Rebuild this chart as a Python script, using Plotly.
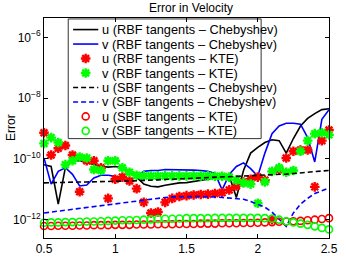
import plotly.graph_objects as go

# ---------------- data (log10 of the error) ----------------
x_vals = [0.5, 0.55, 0.6, 0.65, 0.7, 0.75, 0.8, 0.85, 0.9, 0.95,
          1.0, 1.05, 1.1, 1.15, 1.2, 1.25, 1.3, 1.35, 1.4, 1.45,
          1.5, 1.55, 1.6, 1.65, 1.7, 1.75, 1.8, 1.85, 1.9, 1.95,
          2.0, 2.05, 2.1, 2.15, 2.2, 2.25, 2.3, 2.35, 2.4, 2.45, 2.5]

u_rbf_cheb_log = [-10.19, -10.25, -11.49, -10.29, -10.06, -10.06, -10.13, -10.19, -10.24, -10.27,
                  -10.25, -10.29, -10.41, -10.60, -10.83, -10.90, -10.92, -10.87, -10.83, -10.79,
                  -10.78, -10.75, -10.70, -10.67, -10.62, -10.57, -10.56, -11.27, -10.38, -9.81,
                  -9.62, -9.46, -9.37, -9.40, -9.81, -9.33, -8.92, -8.67, -8.51, -8.38, -8.35]

v_rbf_cheb_log = [-9.97, -10.83, -10.41, -10.29, -10.51, -10.89, -10.86, -10.63, -10.54, -10.54,
                  -10.57, -10.67, -10.73, -10.57, -10.41, -10.38, -10.38, -10.35, -10.35, -10.35,
                  -10.35, -10.37, -10.38, -10.41, -10.48, -11.02, -10.51, -10.25, -10.13, -10.32,
                  -10.57, -9.81, -9.17, -8.92, -8.83, -8.83, -8.86, -9.30, -10.10, -8.70, -8.38]

u_rbf_kte_log = [-9.14, -9.87, -9.65, -9.56, -9.87, -11.08, -10.06, -10.06, -10.29, -11.30,
                 -10.67, -10.60, -10.73, -10.98, -11.43, -11.78, -11.75, -11.43, -11.30, -11.24,
                 -11.21, -11.19, -11.17, -11.16, -11.14, -11.11, -11.02, -10.89, -10.76, -10.67,
                 -10.60, -10.70, -12.00, -10.35, -9.97, -9.75, -9.71, -9.71, -10.92, -9.40, -9.05]

v_rbf_kte_log = [-9.49, -9.30, -9.46, -10.19, -10.06, -9.94, -9.97, -10.35, -10.38, -10.06,
                 -10.06, -10.29, -10.44, -10.54, -10.56, -10.56, -10.56, -10.56, -10.56, -10.56,
                 -10.56, -10.56, -10.56, -10.56, -10.57, -10.57, -10.60, -10.70, -10.79, -10.83,
                 -11.46, -10.76, -10.41, -10.29, -10.44, -10.38, -9.75, -9.40, -9.17, -9.14, -9.21]

u_sbf_cheb_log = [-10.79, -10.78, -10.78, -10.77, -10.77, -10.76, -10.76, -10.75, -10.75, -10.74,
                  -10.74, -10.73, -10.73, -10.72, -10.71, -10.71, -10.70, -10.69, -10.68, -10.67,
                  -10.66, -10.65, -10.64, -10.63, -10.62, -10.61, -10.60, -10.59, -10.58, -10.57,
                  -10.56, -10.54, -10.53, -10.51, -10.50, -10.48, -10.46, -10.44, -10.42, -10.40, -10.38]

v_sbf_cheb_log = [-11.78, -11.75, -11.71, -11.68, -11.65, -11.62, -11.59, -11.56, -11.52, -11.49,
                  -11.48, -11.44, -11.41, -11.38, -11.35, -11.32, -11.30, -11.27, -11.25, -11.24,
                  -11.24, -11.24, -11.24, -11.24, -11.25, -11.27, -11.29, -11.30, -11.33, -11.40,
                  -11.49, -11.59, -11.75, -11.97, -12.22, -11.78, -11.49, -11.30, -11.14, -11.05, -10.95]

u_sbf_kte_log = [-12.21, -12.21, -12.20, -12.20, -12.20, -12.19, -12.19, -12.18, -12.18, -12.18,
                 -12.17, -12.17, -12.17, -12.16, -12.16, -12.16, -12.15, -12.15, -12.15, -12.14,
                 -12.14, -12.14, -12.13, -12.13, -12.13, -12.12, -12.12, -12.12, -12.11, -12.11,
                 -12.10, -12.09, -12.08, -12.07, -12.06, -12.05, -12.04, -12.02, -12.00, -11.98, -11.95]

v_sbf_kte_log = [-12.10, -12.09, -12.09, -12.08, -12.08, -12.07, -12.06, -12.06, -12.05, -12.04,
                 -12.03, -12.02, -12.02, -12.01, -12.00, -11.99, -11.98, -11.97, -11.97, -11.96,
                 -11.95, -11.95, -11.95, -11.95, -11.94, -11.94, -11.94, -11.94, -11.94, -11.94,
                 -11.94, -11.95, -11.97, -12.00, -12.05, -12.09, -12.13, -12.17, -12.22, -12.27, -12.32]

x_tick_vals = [0.5, 1.0, 1.5, 2.0, 2.5]
x_tick_text = ["0.5", "1", "1.5", "2", "2.5"]
y_tick_vals = [1e-12, 1e-10, 1e-8, 1e-6]
y_tick_text = ["10<sup>\u221212</sup>", "10<sup>\u221210</sup>", "10<sup>\u22128</sup>", "10<sup>\u22126</sup>"]

legend_labels = [
    "u (RBF tangents \u2013 Chebyshev)",
    "v (RBF tangents \u2013 Chebyshev)",
    "u (RBF tangents \u2013 KTE)",
    "v (RBF tangents \u2013 KTE)",
    "u (SBF tangents \u2013 Chebyshev)",
    "v (SBF tangents \u2013 Chebyshev)",
    "u (SBF tangents \u2013 KTE)",
    "v (SBF tangents \u2013 KTE)",
]


def to_err(logs):
    return [10.0 ** v for v in logs]


FONT = "Liberation Sans, Arial, Helvetica, sans-serif"
BLUE = "#0000ff"
RED = "#ff0000"
GREEN = "#00ff00"
DASH = "5px,3px"
TICK_SIZE = 12
TITLE_SIZE = 12
LEG_SIZE = 12.8

# style of each series, in legend order: (data, mode, color, dash, symbol)
series = [
    (u_rbf_cheb_log, "lines", "black", "solid", None),
    (v_rbf_cheb_log, "lines", BLUE, "solid", None),
    (u_rbf_kte_log, "markers", RED, None, "asterisk"),
    (v_rbf_kte_log, "markers", GREEN, None, "asterisk"),
    (u_sbf_cheb_log, "lines", "black", DASH, None),
    (v_sbf_cheb_log, "lines", BLUE, DASH, None),
    (u_sbf_kte_log, "markers", RED, None, "circle-open"),
    (v_sbf_kte_log, "markers", GREEN, None, "circle-open"),
]


def marker_style(color, symbol):
    if symbol == "asterisk":
        return dict(symbol="asterisk", size=8, color=color, line=dict(color=color, width=2.4))
    return dict(symbol="circle-open", size=7, color=color, line=dict(color=color, width=1.6))


fig = go.Figure()

for data, mode, color, dash, symbol in series:
    if mode == "lines":
        fig.add_trace(go.Scatter(x=x_vals, y=to_err(data), mode="lines",
                                 line=dict(color=color, width=1.6, dash=dash),
                                 showlegend=False, hoverinfo="skip"))
    else:
        fig.add_trace(go.Scatter(x=x_vals, y=to_err(data), mode="markers",
                                 marker=marker_style(color, symbol), cliponaxis=False,
                                 showlegend=False, hoverinfo="skip"))

# ---------------- legend box (drawn in a pixel-like overlay frame) ----------------
PLOT_L, PLOT_R, PLOT_T, PLOT_B = 44, 338, 18, 246
L_X0, L_X1, L_Y0, L_Y1 = 69, 268, 19, 143
ROW0, ROW_STEP = 30, 15
S_X0, S_X1, S_XM, T_X = 74, 100, 87, 102

fig.add_trace(go.Scatter(x=[L_X0, L_X1, L_X1, L_X0, L_X0], y=[L_Y0, L_Y0, L_Y1, L_Y1, L_Y0],
                         xaxis="x2", yaxis="y2", mode="lines", fill="toself",
                         fillcolor="white", line=dict(color="#333333", width=1),
                         showlegend=False, hoverinfo="skip"))

annotations = []
for r, (label, (data, mode, color, dash, symbol)) in enumerate(zip(legend_labels, series)):
    ry = ROW0 + ROW_STEP * r
    if mode == "lines":
        fig.add_trace(go.Scatter(x=[S_X0, S_X1], y=[ry, ry], xaxis="x2", yaxis="y2", mode="lines",
                                 line=dict(color=color, width=1.6, dash=dash),
                                 showlegend=False, hoverinfo="skip"))
    else:
        fig.add_trace(go.Scatter(x=[S_XM], y=[ry], xaxis="x2", yaxis="y2", mode="markers",
                                 marker=marker_style(color, symbol),
                                 showlegend=False, hoverinfo="skip"))
    annotations.append(dict(x=T_X, y=ry, xref="x2", yref="y2", text=label, showarrow=False,
                            xanchor="left", yanchor="middle",
                            font=dict(family=FONT, size=LEG_SIZE, color="black")))

annotations.append(dict(x=(10 - PLOT_L) / (PLOT_R - PLOT_L), y=0.5, xref="paper", yref="paper",
                        text="Error", textangle=-90, showarrow=False,
                        xanchor="center", yanchor="middle",
                        font=dict(family=FONT, size=TICK_SIZE, color="black")))

axis_common = dict(showline=True, linecolor="black", linewidth=1, mirror="ticks",
                   ticks="inside", ticklen=4, tickcolor="black", tickwidth=1,
                   showgrid=False, zeroline=False,
                   tickfont=dict(family=FONT, size=TICK_SIZE, color="black"))

fig.update_layout(
    width=346, height=264,
    margin=dict(l=PLOT_L, r=346 - PLOT_R, t=PLOT_T, b=264 - PLOT_B),
    paper_bgcolor="white", plot_bgcolor="white",
    showlegend=False,
    title=dict(text="Error in Velocity", x=191 / 346, xanchor="center",
               y=1 - 7.5 / 264, yanchor="middle",
               font=dict(family=FONT, size=TITLE_SIZE, color="black")),
    xaxis=dict(range=[0.5, 2.5], tickvals=x_tick_vals, ticktext=x_tick_text, **axis_common),
    yaxis=dict(type="log", range=[-12.603, -5.365], tickvals=y_tick_vals, ticktext=y_tick_text,
               **axis_common),
    xaxis2=dict(overlaying="x", range=[PLOT_L, PLOT_R], visible=False, anchor="y2"),
    yaxis2=dict(overlaying="y", range=[PLOT_B, PLOT_T], visible=False, anchor="x2"),
    annotations=annotations,
)

fig.write_html("out.html", config={"displayModeBar": False},
               post_script="document.body.style.margin='0';")
